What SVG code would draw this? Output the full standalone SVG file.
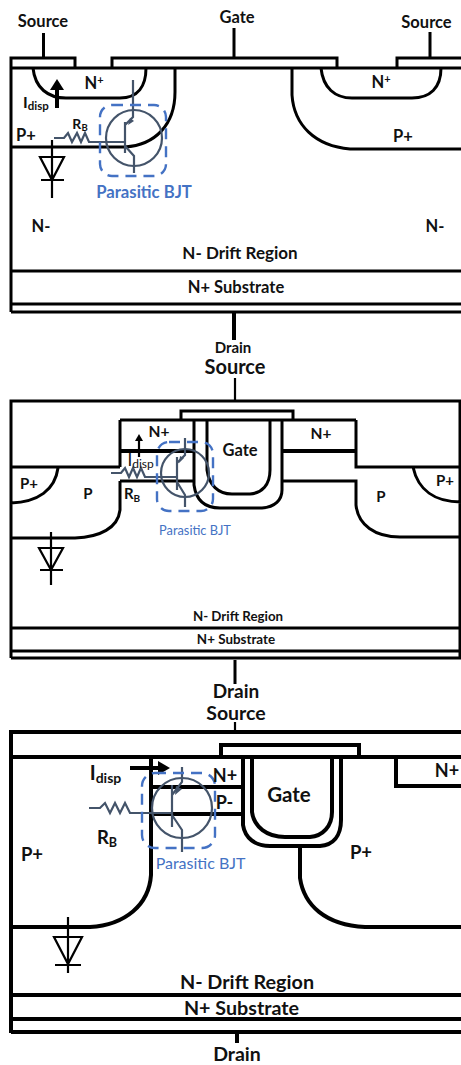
<svg xmlns="http://www.w3.org/2000/svg" width="461" height="1065" viewBox="0 0 461 1065">
<style>
text{font-family:Lato,"Liberation Sans",sans-serif;font-weight:700;fill:#111;text-anchor:middle}
.l{fill:none;stroke:#000;stroke-width:3}
.t{fill:none;stroke:#000;stroke-width:2.2}
.th{fill:none;stroke:#000;stroke-width:4}
.q{fill:none;stroke:#44546A;stroke-width:2.2}
.d{fill:none;stroke:#4472C4;stroke-width:2.4;stroke-dasharray:11 7}
.n{font-weight:400}
</style>
<rect width="461" height="1065" fill="#fff"/>
<g id="device-1">
<path class="l" d="M11 312V58H75V67M112 67V58H337V67M397 67V58H461M11 68H461M43.500 33V58M234 28V58M430 32V58"/>
<path class="l" d="M33 68C35 88 48 98 66 98H120C138 98 146 86 146 68M175 68V92C175 125 155 145 125 147H11M321 68C323 88 335 98 352 98H412C430 98 441 88 441 68M292 68V95C294 125 315 146 350 149H461M11 271H461M11 304H461M11 312H461"/>
<path d="M234 312V340" class="th"/>
<path class="t" d="M52 140V198M40 157H64L52 180ZM41 180H64"/>
<path d="M57 108V88" class="th"/><path d="M50 90L57 79L64 90Z"/>
<circle class="q" cx="134" cy="138" r="28"/>
<path class="q" d="M54 138H64L68 133L72 142L77 133L81 142L85 133L89 142H125M125 122V153M133 80V117L125 125M125 146L134 156V173"/>
<path d="M128 125L134 121L130 118Z" fill="#44546A"/>
<rect class="d" x="100" y="105" width="66" height="71" rx="12"/>
<text x="43" y="27" font-size="16.500">Source</text><text x="237" y="23" font-size="16.500">Gate</text><text x="426.500" y="28" font-size="16.500">Source</text>
<text x="94" y="89" font-size="16.500">N<tspan dy="-5" font-size="11">+</tspan></text><text x="403" y="142" font-size="16.500">P+</text><text x="381" y="88" font-size="16.500">N<tspan dy="-5" font-size="11">+</tspan></text>
<text x="36" y="108" font-size="16">I<tspan dy="2" font-size="11.500">disp</tspan></text>
<text x="26" y="141" font-size="16.500">P+</text><text x="80" y="129" font-size="14">R<tspan dy="2" font-size="9.500">B</tspan></text>
<text x="144" y="198" font-size="16.700" style="fill:#4472C4">Parasitic BJT</text>
<text x="41" y="232" font-size="16.500">N-</text><text x="435" y="232" font-size="16.500">N-</text>
<text x="240" y="259" font-size="17">N- Drift Region</text><text x="236" y="293" font-size="16.500">N+ Substrate</text>
<text x="233" y="353" font-size="15">Drain</text>
</g>
<g id="device-2">
<text x="235" y="374" font-size="20">Source</text>
<path class="t" d="M235 378V401"/>
<path class="l" d="M11 658V401H460V658M181 420V411H293V420M120 420H356M120 467V420M11 467H120M120 481V510C118 528 100 537 75 538H11M194 481H120M58 468C55 490 38 502 11 503M194 420V485C196 500 205 508 220 508H262C275 507 282 500 282 490V420M207 420V470C209 485 218 494 232 494H250C262 493 270 485 270 470V420M282 481H356V505C358 525 375 537 400 537H461M356 420V467H461M413 467C418 490 435 502 461 502M11 628H461M11 651H461M11 658H461M235 660V684"/>
<path class="th" d="M120 451H194M282 451H356"/>
<path class="t" d="M51 532V585M39 548H63L51 570ZM40 570H63"/>
<path class="t" d="M139 457V440"/><path d="M135 441L139 434L143 441Z"/>
<circle class="q" cx="185" cy="473" r="24"/>
<path class="q" d="M111 473H121L125 468L129 477L133 468L137 477L141 468L145 477H177M177 457V490M185 438V455L177 463M177 482L185 495V507"/>
<path d="M179 463L184 458L180 456Z" fill="#44546A"/>
<rect class="d" x="157" y="442" width="56" height="69" rx="12"/>
<text x="159" y="437" font-size="15.500">N+</text><text x="240" y="456" font-size="16.500">Gate</text><text x="321" y="439" font-size="15.500">N+</text>
<text x="29" y="489" font-size="15">P+</text><text x="88" y="499" font-size="15">P</text><text x="381" y="502" font-size="15">P</text><text x="445" y="486" font-size="15">P+</text>
<text x="127.500" y="466" font-size="17" class="n" style="text-anchor:start">I<tspan font-size="12" dy="2">disp</tspan></text>
<text x="132" y="499" font-size="15">R<tspan dy="3" font-size="10">B</tspan></text>
<text x="195" y="535" font-size="12.800" class="n" style="fill:#4472C4">Parasitic BJT</text>
<text x="238" y="621" font-size="13.300">N- Drift Region</text><text x="236" y="644" font-size="13.400">N+ Substrate</text>
<text x="236" y="698" font-size="19">Drain</text>
</g>
<g id="device-3">
<text x="236" y="720" font-size="19.500">Source</text>
<path class="t" d="M235 722V732"/>
<path class="th" d="M11 1033V732H461M11 757H461M221 757V745H359V757M151 757V875C149 905 125 925 90 927H11M151 787H243M151 814H243M243 757V825C245 838 255 846 270 846H320C333 845 341 836 341 820V757M252 757V812C254 827 267 837 285 837H310C323 836 332 826 332 812V757M300 846V878C304 905 325 925 365 927H461M396 757V786H461M12 995H461M12 1019H461M11 1032H461M237 1032V1043"/>
<path class="t" d="M68 917V973M54 937H82L68 964ZM55 965H81"/>
<path d="M130 768H162" class="th"/><path d="M158 761L170 768L158 775Z"/>
<circle class="q" cx="182" cy="808" r="30"/>
<path class="q" d="M89 808H100L105 803L110 813L115 803L120 813L125 803L130 813H172M172 785V827M182 767V782L172 795M172 815L182 830V852"/>
<path d="M175 795L182 789L176 786Z" fill="#44546A"/>
<rect class="d" x="142" y="773" width="73" height="75" rx="13"/>
<text x="225" y="782" font-size="18">N+</text><text x="224.500" y="809" font-size="18">P-</text><text x="289" y="802" font-size="20.500">Gate</text><text x="447" y="777" font-size="18">N+</text>
<text x="32" y="861" font-size="18.500">P+</text><text x="361" y="859" font-size="18.500">P+</text>
<text x="105.500" y="780" font-size="20">I<tspan dy="3" font-size="14">disp</tspan></text>
<text x="107" y="844" font-size="18.500">R<tspan dy="3" font-size="12.500">B</tspan></text>
<text x="200.500" y="869" font-size="16" class="n" style="fill:#4472C4">Parasitic BJT</text>
<text x="247" y="989" font-size="19.800">N- Drift Region</text><text x="241.500" y="1015" font-size="19.700">N+ Substrate</text>
<text x="237" y="1061" font-size="19.500">Drain</text>
</g>
</svg>
